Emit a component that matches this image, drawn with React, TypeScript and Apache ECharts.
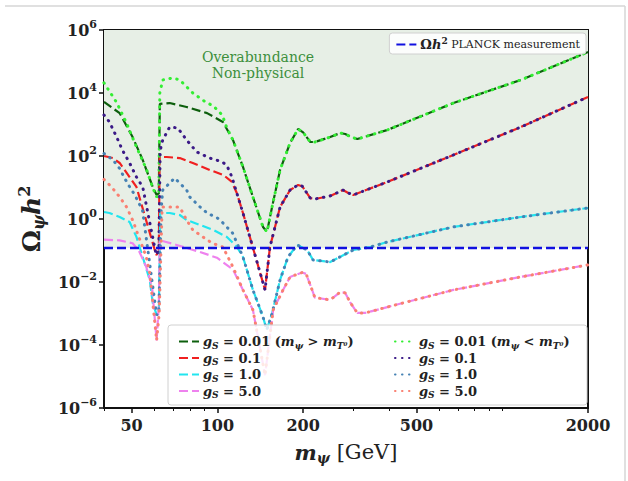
import React, { useEffect, useRef } from "react";
import * as echarts from "echarts";

const SERIF = "'DejaVu Serif', serif";

const xMajorTicks = [50, 100, 200, 500, 2000];
const xMinorTicks = [40, 60, 70, 80, 90, 300, 400, 600, 700, 800, 900, 1000];
const yTicks = [1e-6, 1e-4, 1e-2, 1, 1e2, 1e4, 1e6];
const planckValue = 0.12;
const xRange = [40, 2000];
const yRange = [1e-6, 1e6];

// tails shared where dotted and dashed curves coincide
const tailG001: [number, number][] = [
  [113.4, 323], [123, 45], [133.3, 5], [144.6, 0.56], [149.4, 0.39], [155.6, 2.4], [166, 36],
  [180, 260], [192, 720], [200, 560], [212, 278], [220, 278], [249, 400], [270, 535], [281, 500],
  [295, 400], [310, 345], [395, 670], [674, 4800], [1162, 26000], [2000, 200000],
];
const tailG01: [number, number][] = [
  [123, 1.55], [130, 0.27], [147, 0.0056], [153, 0.13], [166, 2.4], [180, 8.3], [192, 12],
  [198.5, 11], [212, 4.6], [220, 4.3], [249, 5.4], [276, 8.3], [288, 6.7], [300, 5.8],
  [395, 15], [674, 108], [1162, 830], [2000, 7500],
];
const tailG1: [number, number][] = [
  [123, 0.062], [133.3, 0.0056], [144.6, 0.00078], [149, 0.0003], [155.6, 0.001], [166, 0.0116],
  [177, 0.062], [190.5, 0.15], [206.6, 0.104], [216.8, 0.05], [249, 0.043], [300, 0.104],
  [344, 0.129], [395, 0.186], [674, 0.56], [1162, 1.16], [2000, 2.24],
];
const tailG5: [number, number][] = [
  [123, 0.0056], [133.3, 0.0013], [147, 0.000011], [157, 0.0013], [170, 0.0056], [180, 0.0145],
  [198.5, 0.02], [205, 0.018], [215, 0.0056], [220, 0.0032], [249, 0.0027], [270, 0.0048],
  [281, 0.0045], [293, 0.0022], [310, 0.00104], [330, 0.00104], [395, 0.0016], [674, 0.0056],
  [1162, 0.0145], [2000, 0.035],
];

const g001Heavy: [number, number][] = [
  [40, 5200], [45.4, 2300], [50.4, 400], [54.7, 75], [59.3, 10.4], [61.2, 5.8], [62.3, 6.5],
  [62.8, 4500], [68, 4800], [78, 3600], [92, 2300], [104.6, 1200], ...tailG001,
];
const g001Light: [number, number][] = [
  [40, 21000], [44.3, 5000], [48, 1100], [52, 193], [56.5, 36], [59.3, 10], [61.2, 5], [62.3, 5.5],
  [62.8, 10000], [64.3, 26000], [69.7, 30000], [73.8, 26000], [82, 10000], [90, 5500],
  [97, 3800], [104, 2000], [108, 780], ...tailG001,
];
const g01Heavy: [number, number][] = [
  [40, 100], [43, 86], [45.4, 60], [49.2, 21.5], [52, 10.4], [61, 0.072], [62.3, 0.09],
  [62.7, 93], [66.4, 93], [73.8, 86], [82, 60], [94, 36], [105, 25], [112.5, 15], [117, 6.7],
  ...tailG01,
];
const g01Light: [number, number][] = [
  [40, 2000], [41.8, 1200], [44.3, 400], [46.4, 155], [49.2, 60], [52, 21.5], [54.7, 10.4],
  [61, 0.072], [62.3, 0.1], [63, 150], [64.3, 322], [68, 830], [72.6, 780], [78, 322],
  [84.7, 134], [94, 86], [104, 65], [108, 50], [112.5, 21.5], [117, 6.7], ...tailG01,
];
const g1Heavy: [number, number][] = [
  [40, 1.67], [41.8, 1.55], [45.4, 1.16], [49.2, 0.8], [52, 0.27], [54.7, 0.062], [57.9, 0.0116],
  [59.3, 0.0022], [61.2, 0.0009], [62.3, 0.001], [63, 1.55], [68, 1.55], [73.8, 1.34], [78, 0.93],
  [86.8, 0.65], [96.6, 0.45], [108, 0.27], [117.2, 0.129], ...tailG1,
];
const g1Light: [number, number][] = [
  [40, 120], [43, 75], [45.4, 40], [47.2, 20], [49.2, 10.5], [51.2, 6], [54.6, 1.9],
  [61.2, 0.0009], [62.3, 0.001], [63.5, 2], [64.3, 8.3], [70.8, 20], [78, 8.3], [80, 5],
  [87, 2.4], [92, 1.55], [100, 1.08], [104.6, 0.75], [113, 0.36], [118, 0.15], ...tailG1,
];
const g5Heavy: [number, number][] = [
  [40, 0.22], [45.4, 0.21], [50.4, 0.17], [53, 0.1], [56.3, 0.03], [59, 0.007], [61.2, 0.00014],
  [62.3, 0.002], [62.8, 0.21], [65.6, 0.19], [72, 0.15], [86.8, 0.09], [99.6, 0.059],
  [113.4, 0.025], ...tailG5,
];
const g5Light: [number, number][] = [
  [40, 18], [42.5, 10.4], [45.4, 5], [48, 2.4], [50.4, 0.93], [53, 0.27], [56.3, 0.062],
  [57.9, 0.019], [61.2, 0.00014], [62.5, 0.001], [64, 2.4], [73.8, 2.4], [78, 0.93], [82, 0.45],
  [90, 0.25], [96, 0.17], [104.6, 0.129], [113.4, 0.03], ...tailG5,
];
const planckLine: [number, number][] = [[40, planckValue], [2000, planckValue]];

const dashedNames = ["h001", "h01", "h1", "h5"];
const dottedNames = ["l001", "l01", "l1", "l5"];
const labels: Record<string, string> = {
  h001: "{i|g}{s|S}{n| = 0.01 (}{i|m}{s|ψ}{n| > }{i|m}{s|T⁰}{n|)}",
  h01: "{i|g}{s|S}{n| = 0.1}",
  h1: "{i|g}{s|S}{n| = 1.0}",
  h5: "{i|g}{s|S}{n| = 5.0}",
  l001: "{i|g}{s|S}{n| = 0.01 (}{i|m}{s|ψ}{n| < }{i|m}{s|T⁰}{n|)}",
  l01: "{i|g}{s|S}{n| = 0.1}",
  l1: "{i|g}{s|S}{n| = 1.0}",
  l5: "{i|g}{s|S}{n| = 5.0}",
  planck: "{o|Ω}{hh|h}{p|2}{r| PLANCK measurement}",
};

const legendRich = {
  n: { fontFamily: SERIF, fontWeight: "bold", fontSize: 13, lineHeight: 17, color: "#222" },
  i: { fontFamily: SERIF, fontWeight: "bold", fontStyle: "italic", fontSize: 13, lineHeight: 17, color: "#222" },
  s: { fontFamily: SERIF, fontWeight: "bold", fontStyle: "italic", fontSize: 9, lineHeight: 9, verticalAlign: "bottom", color: "#222" },
  o: { fontFamily: SERIF, fontWeight: "bold", fontSize: 13, lineHeight: 17, color: "#222" },
  hh: { fontFamily: SERIF, fontWeight: "bold", fontStyle: "italic", fontSize: 13, lineHeight: 17, color: "#222" },
  p: { fontFamily: SERIF, fontWeight: "bold", fontSize: 9, lineHeight: 9, verticalAlign: "top", color: "#222" },
  r: { fontFamily: SERIF, fontSize: 11, lineHeight: 17, color: "#222" },
};

function mkSeries(name: string, data: [number, number][], color: string, dotted: boolean, z: number) {
  return {
    type: "line",
    name,
    data,
    symbol: "none",
    showSymbol: false,
    silent: true,
    clip: true,
    z,
    itemStyle: { color },
    lineStyle: dotted
      ? { color, width: 3, type: [0.5, 6.5], cap: "round" }
      : { color, width: 2.2, type: [9, 4], cap: "butt" },
  };
}

function supLabel(v: number) {
  const e = Math.round(Math.log10(v));
  return `{b|10}{s|${e < 0 ? "−" + -e : e}}`;
}

export default function App() {
  const ref = useRef<HTMLDivElement>(null);
  useEffect(() => {
    if (!ref.current) return;
    const chart = echarts.init(ref.current, undefined, { renderer: "svg" });
    const legendBase = {
      orient: "vertical",
      itemWidth: 20,
      itemHeight: 8,
      itemGap: 1.5,
      z: 10,
      itemStyle: { opacity: 0, borderWidth: 0, color: "transparent" },
      textStyle: { rich: legendRich, padding: [0, 0, 0, -1] },
      formatter: (n: string) => labels[n] || n,
      selectedMode: false,
    };
    chart.setOption({
      animation: false,
      backgroundColor: "#fff",
      grid: {
        left: 104, right: 40, top: 30, bottom: 73,
        show: true, borderColor: "#111", borderWidth: 2, backgroundColor: "#fff",
      },
      xAxis: [
        {
          type: "log", logBase: 10, min: xRange[0], max: xRange[1],
          name: "{m|m}{s|ψ}{g| [GeV]}",
          nameLocation: "middle", nameGap: 31,
          nameTextStyle: {
            rich: {
              m: { fontFamily: SERIF, fontWeight: "bold", fontStyle: "italic", fontSize: 21, lineHeight: 26, color: "#222" },
              s: { fontFamily: SERIF, fontWeight: "bold", fontStyle: "italic", fontSize: 14, lineHeight: 14, verticalAlign: "bottom", color: "#222" },
              g: { fontFamily: SERIF, fontSize: 21, lineHeight: 26, color: "#222" },
            },
          },
          axisLine: { show: false },
          splitLine: { show: false },
          axisTick: { show: true, customValues: xMajorTicks, length: 5, lineStyle: { color: "#111", width: 1.5 } },
          axisLabel: {
            customValues: xMajorTicks, margin: 9, color: "#222",
            fontFamily: SERIF, fontWeight: "bold", fontSize: 16,
            formatter: (v: number) => String(Math.round(v)),
          },
        },
        {
          type: "log", logBase: 10, min: xRange[0], max: xRange[1],
          position: "top", offset: -378,
          axisLine: { show: false },
          splitLine: { show: false },
          axisLabel: { show: false },
          axisTick: { show: true, inside: true, customValues: xMinorTicks, length: 3, lineStyle: { color: "#111", width: 1 } },
        },
      ],
      yAxis: {
        type: "log", logBase: 10, min: yRange[0], max: yRange[1],
        name: "{o|Ω}{s|ψ}{h|h}{p|2}",
        nameLocation: "middle", nameGap: 58, nameRotate: 90,
        nameTextStyle: {
          rich: {
            o: { fontFamily: SERIF, fontWeight: "bold", fontSize: 25, lineHeight: 30, color: "#222" },
            h: { fontFamily: SERIF, fontWeight: "bold", fontStyle: "italic", fontSize: 25, lineHeight: 30, color: "#222" },
            s: { fontFamily: SERIF, fontWeight: "bold", fontStyle: "italic", fontSize: 16, lineHeight: 15, verticalAlign: "bottom", color: "#222" },
            p: { fontFamily: SERIF, fontWeight: "bold", fontSize: 16, lineHeight: 15, verticalAlign: "top", color: "#222" },
          },
        },
        axisLine: { show: false },
        splitLine: { show: false },
        axisTick: { show: true, customValues: yTicks, length: 5, lineStyle: { color: "#111", width: 1.5 } },
        axisLabel: {
          customValues: yTicks, margin: 7,
          formatter: supLabel,
          rich: {
            b: { fontFamily: SERIF, fontWeight: "bold", fontSize: 16, lineHeight: 22, color: "#222" },
            s: { fontFamily: SERIF, fontWeight: "bold", fontSize: 11, lineHeight: 11, verticalAlign: "top", color: "#222" },
          },
        },
      },
      legend: [
        {
          ...legendBase,
          data: dashedNames,
          left: 173, top: 330,
        },
        {
          ...legendBase,
          data: dottedNames,
          left: 389, top: 330,
        },
        {
          ...legendBase,
          data: ["planck"],
          right: 42, top: 33,
          padding: [3, 6, 3, 6],
          backgroundColor: "rgba(255,255,255,0.85)",
          borderColor: "#d0d0d0", borderWidth: 1, borderRadius: 3,
        },
      ],
      graphic: [
        { type: "line", shape: { x1: 5, y1: 6, x2: 625, y2: 6 }, style: { stroke: "#d6d6d6", lineWidth: 1.5 }, z: 1 },
        { type: "line", shape: { x1: 625, y1: 6, x2: 625, y2: 481 }, style: { stroke: "#d6d6d6", lineWidth: 1.5 }, z: 1 },
        {
          type: "rect", z: 8,
          shape: { x: 168, y: 325, width: 419, height: 80, r: 3 },
          style: { fill: "rgba(255,255,255,0.82)", stroke: "#d0d0d0", lineWidth: 1 },
        },
        {
          type: "text", z: 9, x: 258, y: 49,
          style: {
            text: "Overabundance\nNon-physical", align: "center",
            font: `14px ${SERIF}`, fill: "#3d8f3d", lineHeight: 16,
          },
        },
      ],
      series: [
        {
          type: "line", name: "shade", data: planckLine, symbol: "none", silent: true, z: 1,
          lineStyle: { opacity: 0 },
          markArea: {
            silent: true,
            itemStyle: { color: "#e7efe6" },
            data: [[{ xAxis: xRange[0], yAxis: planckValue }, { xAxis: xRange[1], yAxis: yRange[1] }]],
          },
        },
        mkSeries("h001", g001Heavy, "#0d5f0d", false, 2),
        mkSeries("h01", g01Heavy, "#f02020", false, 2),
        mkSeries("h1", g1Heavy, "#22e5ef", false, 2),
        mkSeries("h5", g5Heavy, "#ee82ee", false, 2),
        mkSeries("l001", g001Light, "#33ee33", true, 3),
        mkSeries("l01", g01Light, "#3b1a87", true, 3),
        mkSeries("l1", g1Light, "#4682b4", true, 3),
        mkSeries("l5", g5Light, "#fa8072", true, 3),
        {
          type: "line", name: "planck", data: planckLine, symbol: "none", silent: true, z: 4,
          itemStyle: { color: "#1010e0" },
          lineStyle: { color: "#1010e0", width: 2.6, type: [9, 4] },
        },
      ],
    });
    return () => chart.dispose();
  }, []);
  return (
    <div
      ref={ref}
      style={{ position: "fixed", left: 0, top: 0, width: 628, height: 481, background: "#fff" }}
    />
  );
}
